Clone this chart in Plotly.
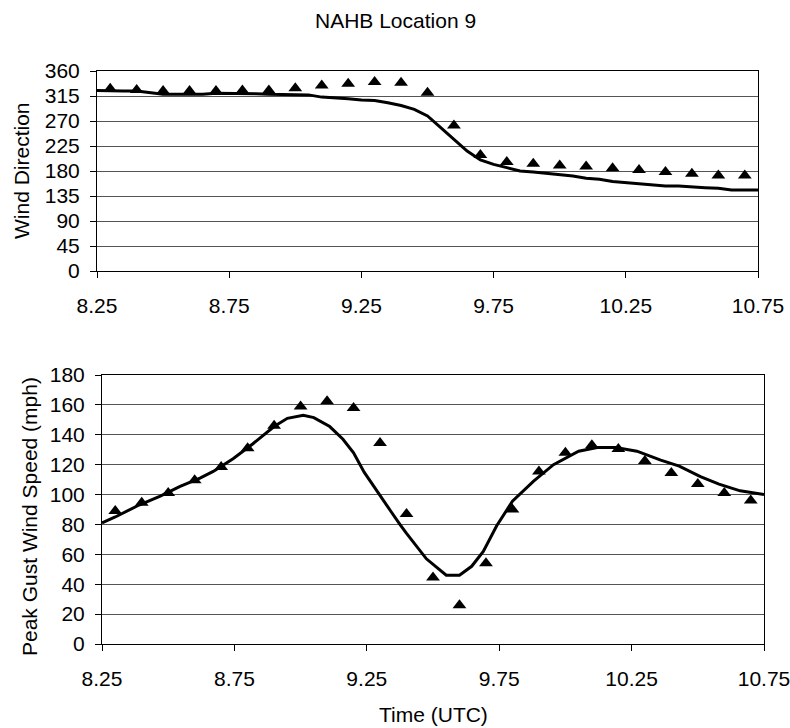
import plotly.graph_objects as go

# ---- data ----
dir_obs_time = [8.3, 8.4, 8.5, 8.6, 8.7, 8.8, 8.9, 9.0, 9.1, 9.2, 9.3, 9.4, 9.5,
                9.6, 9.7, 9.8, 9.9, 10.0, 10.1, 10.2, 10.3, 10.4, 10.5, 10.6, 10.7]
dir_obs = [328, 326, 324, 324, 324, 325, 325, 329, 334, 337, 340, 339, 321,
           262, 209, 196, 193, 190, 188, 185, 182, 178, 175, 172, 172]

dir_model_time = [8.25, 8.30, 8.35, 8.40, 8.45, 8.50, 8.55, 8.60, 8.65, 8.70, 8.75,
                  8.80, 8.85, 8.90, 8.95, 9.00, 9.05, 9.10, 9.15, 9.20, 9.25, 9.30,
                  9.35, 9.40, 9.45, 9.50, 9.55, 9.60, 9.65, 9.70, 9.75, 9.80, 9.85,
                  9.90, 9.95, 10.00, 10.05, 10.10, 10.15, 10.20, 10.25, 10.30, 10.35,
                  10.40, 10.45, 10.50, 10.55, 10.60, 10.65, 10.70, 10.75]
dir_model = [325, 324, 324, 324, 321, 318, 318, 318, 318, 320, 320,
             320, 319, 318, 318, 318, 317, 313, 312, 310, 308, 307,
             303, 298, 291, 279, 258, 237, 216, 200, 192, 186, 180,
             178, 176, 174, 171, 167, 165, 161, 159, 156, 154,
             153, 153, 151, 150, 149, 146, 146, 146]

spd_obs_time = dir_obs_time
spd_obs = [89, 94.5, 101, 109.5, 118.5, 131, 146, 159, 162.5, 158, 134.5, 87, 44.5,
           26, 54, 90, 115.5, 128, 133, 130.5, 122.5, 114.5, 107, 101, 96]

spd_model_time = [8.25, 8.30, 8.39, 8.47, 8.545, 8.62, 8.67, 8.745, 8.82, 8.90, 8.95,
                  9.01, 9.05, 9.11, 9.16, 9.20, 9.24, 9.27, 9.30, 9.34, 9.375, 9.40,
                  9.475, 9.55, 9.60, 9.646, 9.69, 9.74, 9.80, 9.88, 9.955, 10.05,
                  10.12, 10.19, 10.27, 10.36, 10.43, 10.51, 10.58, 10.66, 10.75]
spd_model = [81, 85, 93, 99, 105.5, 111, 115.5, 124, 134, 145.5, 151,
             153, 151.5, 145.5, 137, 128, 115, 107, 99, 89, 80, 74,
             57, 46, 46, 52, 62, 79, 95.5, 109, 120, 129,
             131.5, 131.5, 129, 123, 119, 112, 107, 102.5, 100]

x_ticks = [8.25, 8.75, 9.25, 9.75, 10.25, 10.75]
dir_ticks = [0, 45, 90, 135, 180, 225, 270, 315, 360]
spd_ticks = [0, 20, 40, 60, 80, 100, 120, 140, 160, 180]

W, H = 790, 728
FONT = "Liberation Sans, Arial, sans-serif"
FS = 21
MSIZE = 12

fig = go.Figure()

fig.add_trace(go.Scatter(x=dir_model_time, y=dir_model, mode="lines",
                         line=dict(color="black", width=3), xaxis="x", yaxis="y",
                         showlegend=False))
fig.add_trace(go.Scatter(x=dir_obs_time, y=dir_obs, mode="markers",
                         marker=dict(symbol="triangle-up", size=MSIZE, color="black"),
                         xaxis="x", yaxis="y", showlegend=False))
fig.add_trace(go.Scatter(x=spd_model_time, y=spd_model, mode="lines",
                         line=dict(color="black", width=3), xaxis="x2", yaxis="y2",
                         showlegend=False))
fig.add_trace(go.Scatter(x=spd_obs_time, y=spd_obs, mode="markers",
                         marker=dict(symbol="triangle-up", size=MSIZE, color="black"),
                         xaxis="x2", yaxis="y2", showlegend=False))

def px_x(p):
    return p / W

def px_y(p):
    return 1 - p / H

xcommon = dict(range=[8.25, 10.75], tickvals=x_ticks,
               ticktext=[f"{v:g}" for v in x_ticks],
               ticks="outside", ticklen=6, tickcolor="black", tickwidth=1,
               showline=True, linecolor="black", linewidth=1, mirror=True,
               showgrid=False, zeroline=False, automargin=False,
               ticklabeloverflow="allow",
               tickfont=dict(family=FONT, size=FS, color="black"),
               ticklabelstandoff=10)
ycommon = dict(ticks="outside", ticklen=6, tickcolor="black", tickwidth=1,
               showline=True, linecolor="black", linewidth=1, mirror=True,
               showgrid=True, gridcolor="#555555", gridwidth=1, zeroline=False,
               automargin=False,
               tickfont=dict(family=FONT, size=FS, color="black"),
               ticklabelstandoff=6)

fig.update_layout(
    width=W, height=H, autosize=False,
    margin=dict(l=0, r=0, t=0, b=0, pad=0),
    paper_bgcolor="white", plot_bgcolor="white",
    xaxis=dict(domain=[px_x(97), px_x(758)], anchor="y", **xcommon),
    yaxis=dict(domain=[px_y(271), px_y(71)], anchor="x", range=[0, 360],
               tickvals=dir_ticks, **ycommon),
    xaxis2=dict(domain=[px_x(102), px_x(764)], anchor="y2", **xcommon),
    yaxis2=dict(domain=[px_y(644), px_y(375)], anchor="x2", range=[0, 180],
                tickvals=spd_ticks, **ycommon),
    annotations=[
        dict(text="NAHB Location 9", x=px_x(395), y=px_y(20), xref="paper", yref="paper",
             xanchor="center", yanchor="middle", showarrow=False,
             font=dict(family=FONT, size=FS, color="black")),
        dict(text="Wind Direction", x=px_x(21), y=px_y(171), xref="paper", yref="paper",
             xanchor="center", yanchor="middle", showarrow=False, textangle=-90,
             font=dict(family=FONT, size=FS, color="black")),
        dict(text="Peak Gust Wind Speed (mph)", x=px_x(29), y=px_y(517), xref="paper",
             yref="paper", xanchor="center", yanchor="middle", showarrow=False,
             textangle=-90, font=dict(family=FONT, size=FS, color="black")),
        dict(text="Time (UTC)", x=px_x(433), y=px_y(714), xref="paper", yref="paper",
             xanchor="center", yanchor="middle", showarrow=False,
             font=dict(family=FONT, size=FS, color="black")),
    ],
)

fig.write_html("out.html",
               config={"displayModeBar": False},
               post_script="document.body.style.margin='0px';"
                           "document.body.style.padding='0px';"
                           "document.body.style.overflow='hidden';")
